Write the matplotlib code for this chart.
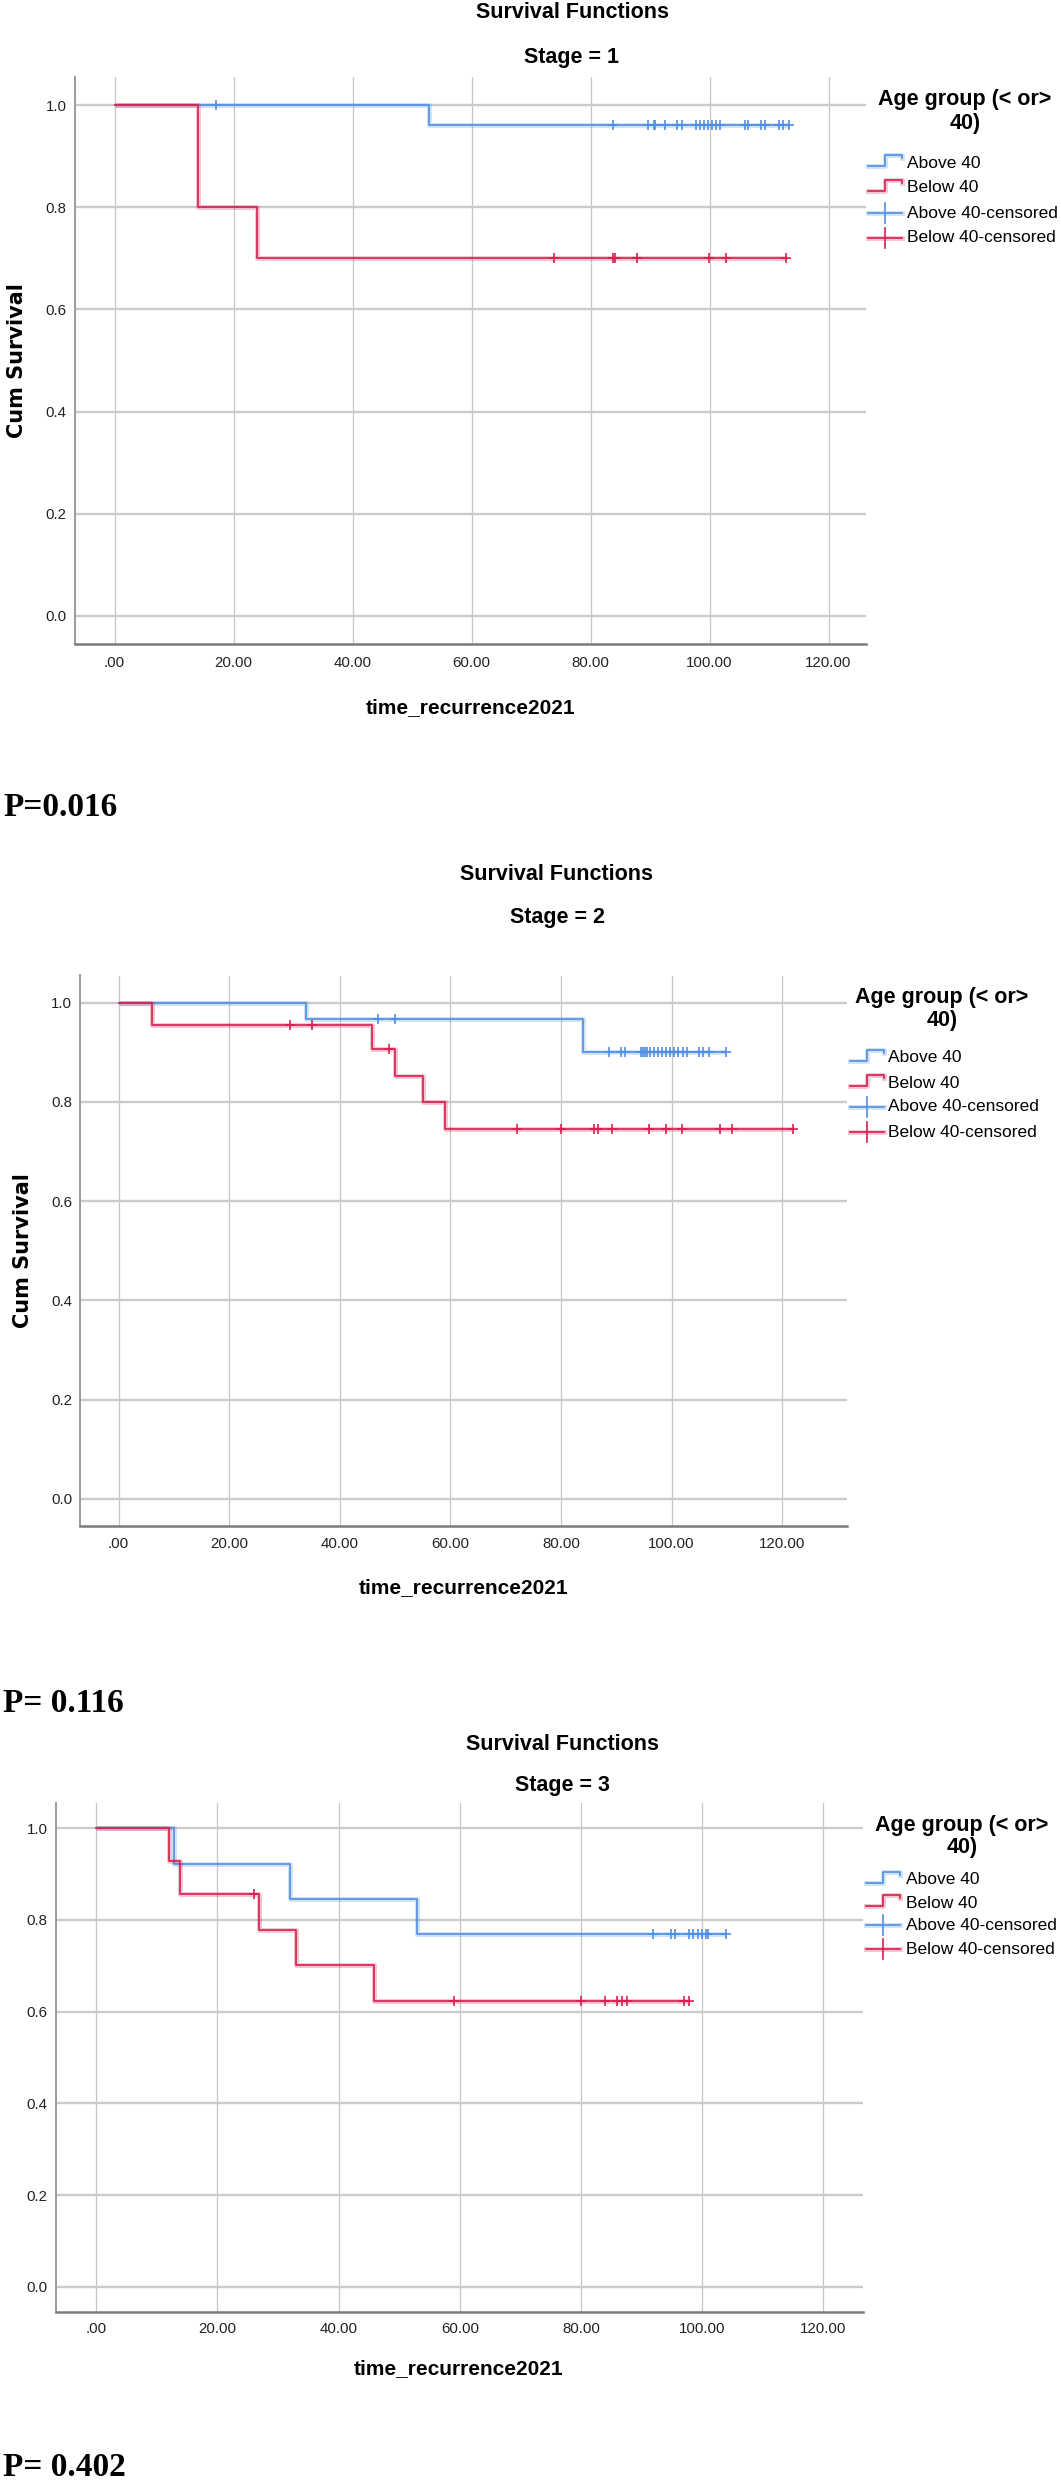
"""Kaplan-Meier survival curves (recurrence) by age group, one panel per stage.
Three SPSS-style panels stacked in one tall image -> out.png (1061x2480)."""

import matplotlib
matplotlib.use("Agg")
import matplotlib.pyplot as plt
from matplotlib.lines import Line2D
import numpy as np

W, H = 1061, 2480
BLUE, RED = "#4f8fe3", "#d81f4c"
SANS = ["Liberation Sans", "DejaVu Sans"]

XTICKS = [0, 20, 40, 60, 80, 100, 120]
XTICK_LABELS = [".00", "20.00", "40.00", "60.00", "80.00", "100.00", "120.00"]
YTICKS = [0.0, 0.2, 0.4, 0.6, 0.8, 1.0]
YTICK_LABELS = ["0.0", "0.2", "0.4", "0.6", "0.8", "1.0"]
GROUPS = ["Above 40", "Below 40", "Above 40-censored", "Below 40-censored"]
P_TEXT = ["P=0.016", "P= 0.116", "P= 0.402"]
STAGES = [1, 2, 3]

# --- stage 1 ---
S1_ABOVE_T = [0.0, 52.9]
S1_ABOVE_S = [1.0, 0.962]
S1_ABOVE_C = [17.0, 83.8, 89.7, 90.6, 90.9, 92.6, 94.5, 95.3, 97.7, 98.4, 99.1, 99.8,
              100.5, 101.1, 101.8, 106.0, 106.5, 108.7, 109.4, 111.7, 112.4, 113.3]
S1_BELOW_T = [0.0, 14.0, 24.0]
S1_BELOW_S = [1.0, 0.8, 0.7]
S1_BELOW_C = [73.9, 83.8, 84.1, 87.8, 99.9, 102.8, 112.8]

# --- stage 2 ---
S2_ABOVE_T = [0.0, 33.9, 83.9]
S2_ABOVE_S = [1.0, 0.968, 0.900]
S2_ABOVE_C = [46.9, 49.9, 88.7, 90.8, 91.6, 94.5, 94.9, 95.2, 95.6, 96.1, 96.8, 97.5,
              98.2, 99.0, 99.7, 100.5, 101.2, 102.0, 102.7, 104.9, 105.7, 106.7, 109.8]
S2_BELOW_T = [0.0, 6.0, 45.8, 50.0, 55.0, 59.0]
S2_BELOW_S = [1.0, 0.955, 0.906, 0.852, 0.799, 0.745]
S2_BELOW_C = [31.0, 34.9, 48.9, 72.0, 80.0, 86.0, 86.7, 89.2, 95.9, 99.0, 101.9,
              108.8, 110.9, 121.9]

# --- stage 3 ---
S3_ABOVE_T = [0.0, 12.9, 32.0, 52.9]
S3_ABOVE_S = [1.0, 0.923, 0.846, 0.769]
S3_ABOVE_C = [91.8, 94.8, 95.5, 97.9, 98.5, 99.3, 99.9, 100.7, 100.9, 103.9]
S3_BELOW_T = [0.0, 12.0, 13.9, 26.8, 33.0, 45.8]
S3_BELOW_S = [1.0, 0.929, 0.857, 0.779, 0.701, 0.623]
S3_BELOW_C = [26.0, 59.0, 80.0, 84.0, 85.9, 86.7, 87.6, 97.0, 97.8]

CURVES = [
    ((S1_ABOVE_T, S1_ABOVE_S, S1_ABOVE_C), (S1_BELOW_T, S1_BELOW_S, S1_BELOW_C)),
    ((S2_ABOVE_T, S2_ABOVE_S, S2_ABOVE_C), (S2_BELOW_T, S2_BELOW_S, S2_BELOW_C)),
    ((S3_ABOVE_T, S3_ABOVE_S, S3_ABOVE_C), (S3_BELOW_T, S3_BELOW_S, S3_BELOW_C)),
]

# layout, all in image pixels (y measured from the top)
LAYOUT = [
    dict(box=(74.5, 77, 866, 644), x0=114.5, ppu=5.95, title_x=572, title_y=(12, 57),
         xlab_y=708, ylab_x=17, tick_y=663, p_y=807,
         leg=dict(cx=965, ty=(100, 123), iy=(163, 188, 213, 238), hx=(868, 902), tx=907)),
    dict(box=(80, 975.5, 847, 1526), x0=118.6, ppu=5.53, title_x=557, title_y=(874, 918),
         xlab_y=1588, ylab_x=23, tick_y=1544, p_y=1703,
         leg=dict(cx=942, ty=(997, 1020), iy=(1058, 1083, 1107, 1132), hx=(850, 884), tx=888)),
    # the reference cuts the stage-3 y label off at the left edge; only a sliver shows
    dict(box=(55.5, 1803, 862.5, 2312), x0=96.2, ppu=6.06, title_x=562, title_y=(1745, 1785),
         xlab_y=2369, ylab_x=-5, tick_y=2329, p_y=2467,
         leg=dict(cx=962, ty=(1825, 1847), iy=(1880, 1903, 1925, 1949), hx=(866, 900), tx=906)),
]
YLIM = (-0.055, 1.055)
PX_PT = 100 / 72


def fx(px):
    return px / W


def fy(py):
    return 1 - py / H


def km_line(ax, times, surv, cens, color):
    end = max(max(cens), times[-1])
    xs = list(times) + [end]
    ys = list(surv) + [surv[-1]]
    ax.step(xs, ys, where="post", color=color, lw=3.6, alpha=0.25, solid_capstyle="butt")
    ax.step(xs, ys, where="post", color=color, lw=1.2)
    idx = np.searchsorted(times, cens, side="right") - 1
    ax.plot(cens, np.asarray(surv)[idx], ls="none", marker="+", ms=7.5, mew=1.2, color=color)


def legend(fig, lg):
    fig.text(fx(lg["cx"]), fy(lg["ty"][0]), "Age group (< or>", ha="center", va="center",
             fontsize=15.5, fontweight="bold", family=SANS)
    fig.text(fx(lg["cx"]), fy(lg["ty"][1]), "40)", ha="center", va="center",
             fontsize=15.5, fontweight="bold", family=SANS)
    h0, h1 = lg["hx"]
    hm = (h0 + h1) / 2
    for name, y, col, step in zip(GROUPS, lg["iy"], (BLUE, RED, BLUE, RED), (1, 1, 0, 0)):
        if step:
            xs = [h0, hm, hm, h1, h1]
            ys = [y + 3, y + 3, y - 8, y - 8, y - 5]
        else:
            xs, ys = [h0, h1], [y, y]
            fig.add_artist(Line2D([fx(hm), fx(hm)], [fy(y - 10), fy(y + 10)], color=col,
                                  lw=1.2, transform=fig.transFigure))
        fig.add_artist(Line2D([fx(v) for v in xs], [fy(v) for v in ys], color=col, lw=3.6,
                              alpha=0.25, transform=fig.transFigure))
        fig.add_artist(Line2D([fx(v) for v in xs], [fy(v) for v in ys], color=col, lw=1.2,
                              transform=fig.transFigure))
        fig.text(fx(lg["tx"]), fy(y), name, ha="left", va="center", fontsize=12.5, family=SANS)


def panel(fig, stage, curves, lay, ptxt):
    l, t, r, b = lay["box"]
    ax = fig.add_axes([fx(l), fy(b), (r - l) / W, (b - t) / H])
    ax.set_xlim(-(lay["x0"] - l) / lay["ppu"], (r - lay["x0"]) / lay["ppu"])
    ax.set_ylim(*YLIM)
    ax.set_xticks(XTICKS)
    ax.set_xticklabels(XTICK_LABELS)
    ax.set_yticks(YTICKS)
    ax.set_yticklabels(YTICK_LABELS)
    ax.set_axisbelow(True)
    ax.xaxis.grid(True, color="#c6c6c6", lw=0.9)
    ax.yaxis.grid(True, color="#cbcbcb", lw=1.7)
    for s in ("top", "right"):
        ax.spines[s].set_visible(False)
    ax.spines["left"].set_color("#9a9a9a"); ax.spines["left"].set_linewidth(1.4)
    ax.spines["bottom"].set_color("#7a7a7a"); ax.spines["bottom"].set_linewidth(1.8)
    ax.tick_params(axis="x", length=0, pad=(lay["tick_y"] - b) / PX_PT, labelsize=10.8,
                   labelcolor="#222")
    ax.tick_params(axis="y", length=0, pad=5.6, labelsize=10.8, labelcolor="#222")
    for lbl in ax.get_xticklabels():
        lbl.set_va("center"); lbl.set_family(SANS)
    for lbl in ax.get_yticklabels():
        lbl.set_family(SANS)

    (at, as_, ac), (bt, bs, bc) = curves
    km_line(ax, at, as_, ac, BLUE)
    km_line(ax, bt, bs, bc, RED)

    ax.set_xlabel("time_recurrence2021", fontsize=15, fontweight="bold", family=SANS, va="center")
    ax.xaxis.set_label_coords(0.5, (b - lay["xlab_y"]) / (b - t))
    ax.set_ylabel("Cum Survival", fontsize=15, fontweight="bold", family="DejaVu Sans", va="center")
    ax.yaxis.set_label_coords((lay["ylab_x"] - l) / (r - l), 0.5)

    fig.text(fx(lay["title_x"]), fy(lay["title_y"][0]), "Survival Functions", ha="center",
             va="center", fontsize=15.5, fontweight="bold", family=SANS)
    fig.text(fx(lay["title_x"]), fy(lay["title_y"][1]), f"Stage = {stage}", ha="center",
             va="center", fontsize=15.5, fontweight="bold", family=SANS)
    legend(fig, lay["leg"])
    fig.text(fx(3), fy(lay["p_y"]), ptxt, ha="left", va="center", fontsize=24,
             fontweight="bold", family=["Liberation Serif", "DejaVu Serif"])


def main():
    fig = plt.figure(figsize=(W / 100, H / 100), dpi=100)
    fig.patch.set_facecolor("white")
    for stage, curves, lay, ptxt in zip(STAGES, CURVES, LAYOUT, P_TEXT):
        panel(fig, stage, curves, lay, ptxt)
    fig.savefig("out.png", dpi=100)
    plt.close(fig)


if __name__ == "__main__":
    main()
